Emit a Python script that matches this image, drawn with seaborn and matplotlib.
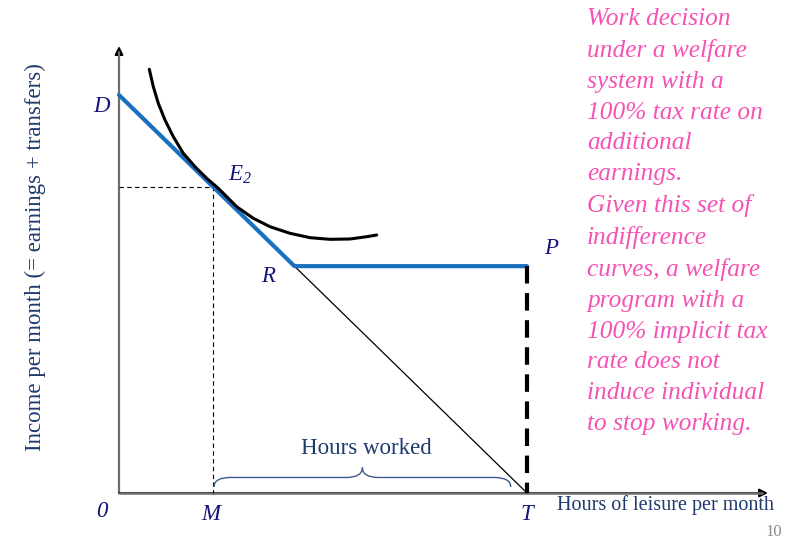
import matplotlib
matplotlib.use("Agg")
import matplotlib.pyplot as plt
from matplotlib.path import Path
from matplotlib.patches import PathPatch
import seaborn as sns

sns.set_theme(style="white")
plt.rcParams['font.family'] = ['Liberation Serif', 'DejaVu Serif']
plt.rcParams['mathtext.fontset'] = 'custom'
plt.rcParams['mathtext.rm'] = 'Liberation Serif:italic'
plt.rcParams['mathtext.it'] = 'Liberation Serif:italic'

# ---- data (abstract units: T = 100 hours of leisure, D = 100 income) ----
D = (0, 100)
E2 = (23, 77)
R = (43, 57)
P = (100, 57)
T = (100, 0)
M = (23, 0)

budget_x = [D[0], R[0], P[0]]          # welfare budget constraint D-R-P
budget_y = [D[1], R[1], P[1]]
wage_x = [D[0], T[0]]                  # original budget line D-T
wage_y = [D[1], T[1]]
drop_x = [P[0], T[0]]                  # dashed P-T
drop_y = [P[1], T[1]]

curve_x = [7.43, 8.41, 9.63, 11.27, 13.31, 15.76, 18.63, 21.50, 24.34, 26.79,
           28.85, 32.92, 37.01, 41.91, 46.81, 51.72, 56.62, 60.71, 63.16]
curve_y = [106.46, 102.09, 97.91, 93.72, 89.52, 85.35, 81.98, 79.07, 76.56, 74.05,
           71.93, 69.02, 66.91, 65.25, 64.15, 63.74, 63.82, 64.40, 64.82]

navy = '#14147a'
textblue = '#1f3a6e'
blue = '#1a70bf'
pink = '#f552b4'

# pixel mapping: origin at (119,493), 4.08 px per x unit, 3.98 px per y unit
W, H = 793, 540
x0p, y0p, sx, sy = 119, 493, 4.08, 3.98

fig = plt.figure(figsize=(W / 100, H / 100), dpi=100)
ax = fig.add_axes([0, 0, 1, 1])
ax.set_xlim(-x0p / sx, (W - x0p) / sx)
ax.set_ylim((y0p - H) / sy, y0p / sy)
ax.axis('off')

# axes with arrows
axis_col = '#6e6e6e'
ax.annotate('', xy=(0, (y0p - 46) / sy), xytext=(0, 0),
            arrowprops=dict(arrowstyle='-|>', color='black', lw=1.5, mutation_scale=12,
                            shrinkA=0, shrinkB=0), zorder=1)
ax.plot([0, 0], [0, (y0p - 52) / sy], color=axis_col, lw=1.5, zorder=1)
ax.annotate('', xy=((768 - x0p) / sx, 0), xytext=(0, 0),
            arrowprops=dict(arrowstyle='-|>', color='black', lw=1.5, mutation_scale=12,
                            shrinkA=0, shrinkB=0), zorder=1)
ax.plot([0, (762 - x0p) / sx], [0, 0], color=axis_col, lw=1.8, zorder=1)

# dashed guide lines at E2
ax.plot([0, E2[0], E2[0]], [E2[1], E2[1], 0], color='black', lw=0.8,
        linestyle=(0, (4, 3)), zorder=2)

# original budget line (thin black)
sns.lineplot(x=wage_x, y=wage_y, color='black', lw=0.9, ax=ax, sort=False, estimator=None, zorder=3)
# welfare budget constraint (blue)
sns.lineplot(x=budget_x, y=budget_y, color=blue, lw=3.0, ax=ax, sort=False, estimator=None, zorder=4)
# dashed P-T
sns.lineplot(x=drop_x, y=drop_y, color='black', lw=3.0, ax=ax, sort=False, estimator=None,
             linestyle=(0, (4.2, 2.3)), zorder=4)
# indifference curve
sns.lineplot(x=curve_x, y=curve_y, color='black', lw=2.2, ax=ax, sort=False, estimator=None,
             zorder=5, solid_joinstyle='round', solid_capstyle='round')

# brace for hours worked
xa, xb = M[0] + 0.3, T[0] - 4.0
xc = (xa + xb) / 2
yb, ym, yt = 1.5, 3.9, 6.4
rx = 4.0
verts = [(xa, yb), (xa, ym), (xa + rx, ym),
         (xc - rx, ym), (xc, ym), (xc, yt),
         (xc, ym), (xc + rx, ym),
         (xb - rx, ym), (xb, ym), (xb, yb)]
codes = [Path.MOVETO, Path.CURVE3, Path.CURVE3,
         Path.LINETO, Path.CURVE3, Path.CURVE3,
         Path.CURVE3, Path.CURVE3,
         Path.LINETO, Path.CURVE3, Path.CURVE3]
ax.add_patch(PathPatch(Path(verts, codes), fc='none', ec='#3d5a8e', lw=1.0, zorder=3))
ax.text(xc + 1, (y0p - 449) / sy, 'Hours worked', color=textblue, fontsize=16.5,
        ha='center', va='center')

# point labels
lab = dict(color=navy, fontsize=16.5, style='italic', ha='center', va='center')
ax.text(-4.2, 97.2, 'D', **lab)
ax.text(29.6, 80.0, r'$E_2$', color=navy, fontsize=16.5, ha='center', va='center')
ax.text(36.5, 54.3, 'R', **lab)
ax.text(106.0, 61.5, 'P', **lab)
ax.text(-4.2, -4.6, '0', **lab)
ax.text(22.5, -5.3, 'M', **lab)
ax.text(100.0, -5.3, 'T', **lab)

# axis titles
ax.text((557 - x0p) / sx, (y0p - 505) / sy, 'Hours of leisure per month', color=textblue,
        fontsize=14.5, ha='left', va='center')
ax.text((35 - x0p) / sx, (y0p - 257) / sy, 'Income per month (= earnings + transfers)',
        color=textblue, fontsize=16.5, rotation=90, ha='center', va='center')

# page number
ax.text((782 - x0p) / sx, (y0p - 532) / sy, '10', color='#8c8c8c', fontsize=12,
        ha='right', va='center')

# side note
note = ("Work decision\nunder a welfare\nsystem with a\n100% tax rate on\nadditional\nearnings.\n"
        "Given this set of\nindifference\ncurves, a welfare\nprogram with a\n100% implicit tax\n"
        "rate does not\ninduce individual\nto stop working.")
fig.text(587 / W, 1 - 8 / H, note, color=pink, fontsize=18.3, style='italic',
         ha='left', va='top', linespacing=1.51)

fig.savefig('out.png', dpi=100)
